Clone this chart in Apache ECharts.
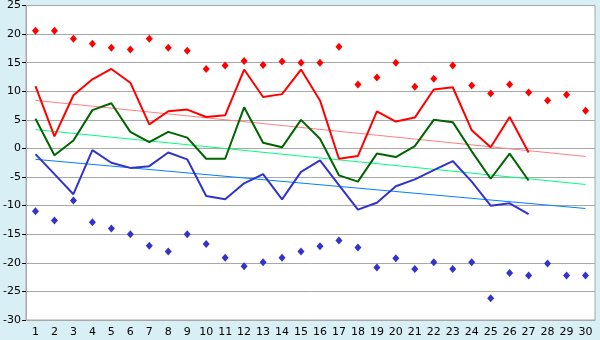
<!DOCTYPE html>
<html>
<head>
<meta charset="utf-8">
<script src="https://cdn.jsdelivr.net/npm/echarts@6/dist/echarts.min.js"></script>
<style>
html,body{margin:0;padding:0;background:#d9eff6;}
#c{width:600px;height:340px;}
</style>
</head>
<body>
<div id="c"></div>
<script>
var days = [];
for (var d = 1; d <= 30; d++) days.push(String(d));

var yTicks = [-30, -25, -20, -15, -10, -5, 0, 5, 10, 15, 20, 25];

var maxLine = [10.9, 2.1, 9.3, 12.1, 13.9, 11.5, 4.2, 6.5, 6.8, 5.5, 5.8, 13.8, 9.0, 9.5, 13.8, 8.4, -1.8, -1.3, 6.5, 4.7, 5.4, 10.3, 10.7, 3.2, 0.2, 5.5, -0.7];
var meanLine = [5.2, -1.2, 1.4, 6.7, 7.9, 2.9, 1.1, 2.9, 1.9, -1.8, -1.8, 7.2, 1.0, 0.2, 5.0, 1.7, -4.7, -5.8, -0.9, -1.5, 0.4, 5.0, 4.6, -0.5, -5.3, -0.9, -5.6];
var minLine = [-1.0, -4.5, -8.0, -0.3, -2.5, -3.4, -3.1, -0.7, -1.9, -8.3, -8.9, -6.1, -4.5, -8.9, -4.1, -2.1, -6.4, -10.7, -9.5, -6.6, -5.4, -3.8, -2.2, -5.8, -10.0, -9.6, -11.5];

var recordHigh = [20.6, 20.6, 19.2, 18.3, 17.6, 17.3, 19.2, 17.6, 17.1, 13.9, 14.5, 15.3, 14.6, 15.2, 15.0, 15.0, 17.8, 11.2, 12.4, 15.0, 10.8, 12.2, 14.5, 11.0, 9.6, 11.2, 9.8, 8.4, 9.4, 6.6];
var recordLow = [-11.0, -12.6, -9.1, -12.9, -14.0, -15.0, -17.0, -18.0, -15.0, -16.7, -19.1, -20.6, -19.9, -19.1, -18.0, -17.1, -16.1, -17.3, -20.8, -19.2, -21.1, -19.9, -21.1, -19.9, -26.2, -21.8, -22.2, -20.1, -22.2, -22.2];

// trend line endpoints (day 1 and day 30)
var trendMax = [8.4, -1.4];
var trendMean = [3.3, -6.3];
var trendMin = [-1.9, -10.5];

function trend(ends) {
  var arr = [];
  for (var i = 0; i < days.length; i++) arr.push(null);
  arr[0] = ends[0];
  arr[days.length - 1] = ends[1];
  return arr;
}

var chart = echarts.init(document.getElementById('c'), null, {renderer: 'canvas'});
var font = 'DejaVu Sans';
chart.setOption({
  animation: false,
  backgroundColor: '#d9eff6',
  grid: {left: 26, right: 5, top: 5, bottom: 20, show: true, backgroundColor: '#ffffff', borderColor: '#a8a8a8', borderWidth: 1},
  xAxis: {
    type: 'category', data: days, boundaryGap: true,
    axisLine: {onZero: false, lineStyle: {color: '#a8a8a8', width: 1}},
    axisTick: {alignWithLabel: true, length: 5, lineStyle: {color: '#000000'}},
    axisLabel: {color: '#000000', fontFamily: font, fontSize: 11, margin: 7},
    splitLine: {show: false}
  },
  yAxis: {
    type: 'value', min: yTicks[0], max: yTicks[yTicks.length - 1], interval: 5,
    axisLine: {show: true, lineStyle: {color: '#a8a8a8', width: 1}},
    axisTick: {show: true, length: 4, lineStyle: {color: '#000000'}},
    axisLabel: {color: '#000000', fontFamily: font, fontSize: 11, margin: 5},
    splitLine: {show: true, lineStyle: {color: '#a8a8a8', width: 1}}
  },
  series: [
    {type: 'line', data: trend(trendMax), connectNulls: true, symbol: 'none', lineStyle: {color: '#ff8080', width: 1}, z: 2},
    {type: 'line', data: trend(trendMean), connectNulls: true, symbol: 'none', lineStyle: {color: '#00ff80', width: 1}, z: 2},
    {type: 'line', data: trend(trendMin), connectNulls: true, symbol: 'none', lineStyle: {color: '#0080ff', width: 1}, z: 2},
    {type: 'line', data: maxLine, symbol: 'none', lineStyle: {color: '#ff0000', width: 2}, z: 3},
    {type: 'line', data: meanLine, symbol: 'none', lineStyle: {color: '#006400', width: 2}, z: 3},
    {type: 'line', data: minLine, symbol: 'none', lineStyle: {color: '#3333cc', width: 2}, z: 3},
    {type: 'scatter', data: recordHigh, symbol: 'diamond', symbolSize: [7, 8], itemStyle: {color: '#ff0000', opacity: 1}, z: 4},
    {type: 'scatter', data: recordLow, symbol: 'diamond', symbolSize: [7, 8], itemStyle: {color: '#3333cc', opacity: 1}, z: 4}
  ]
});
</script>
</body>
</html>
